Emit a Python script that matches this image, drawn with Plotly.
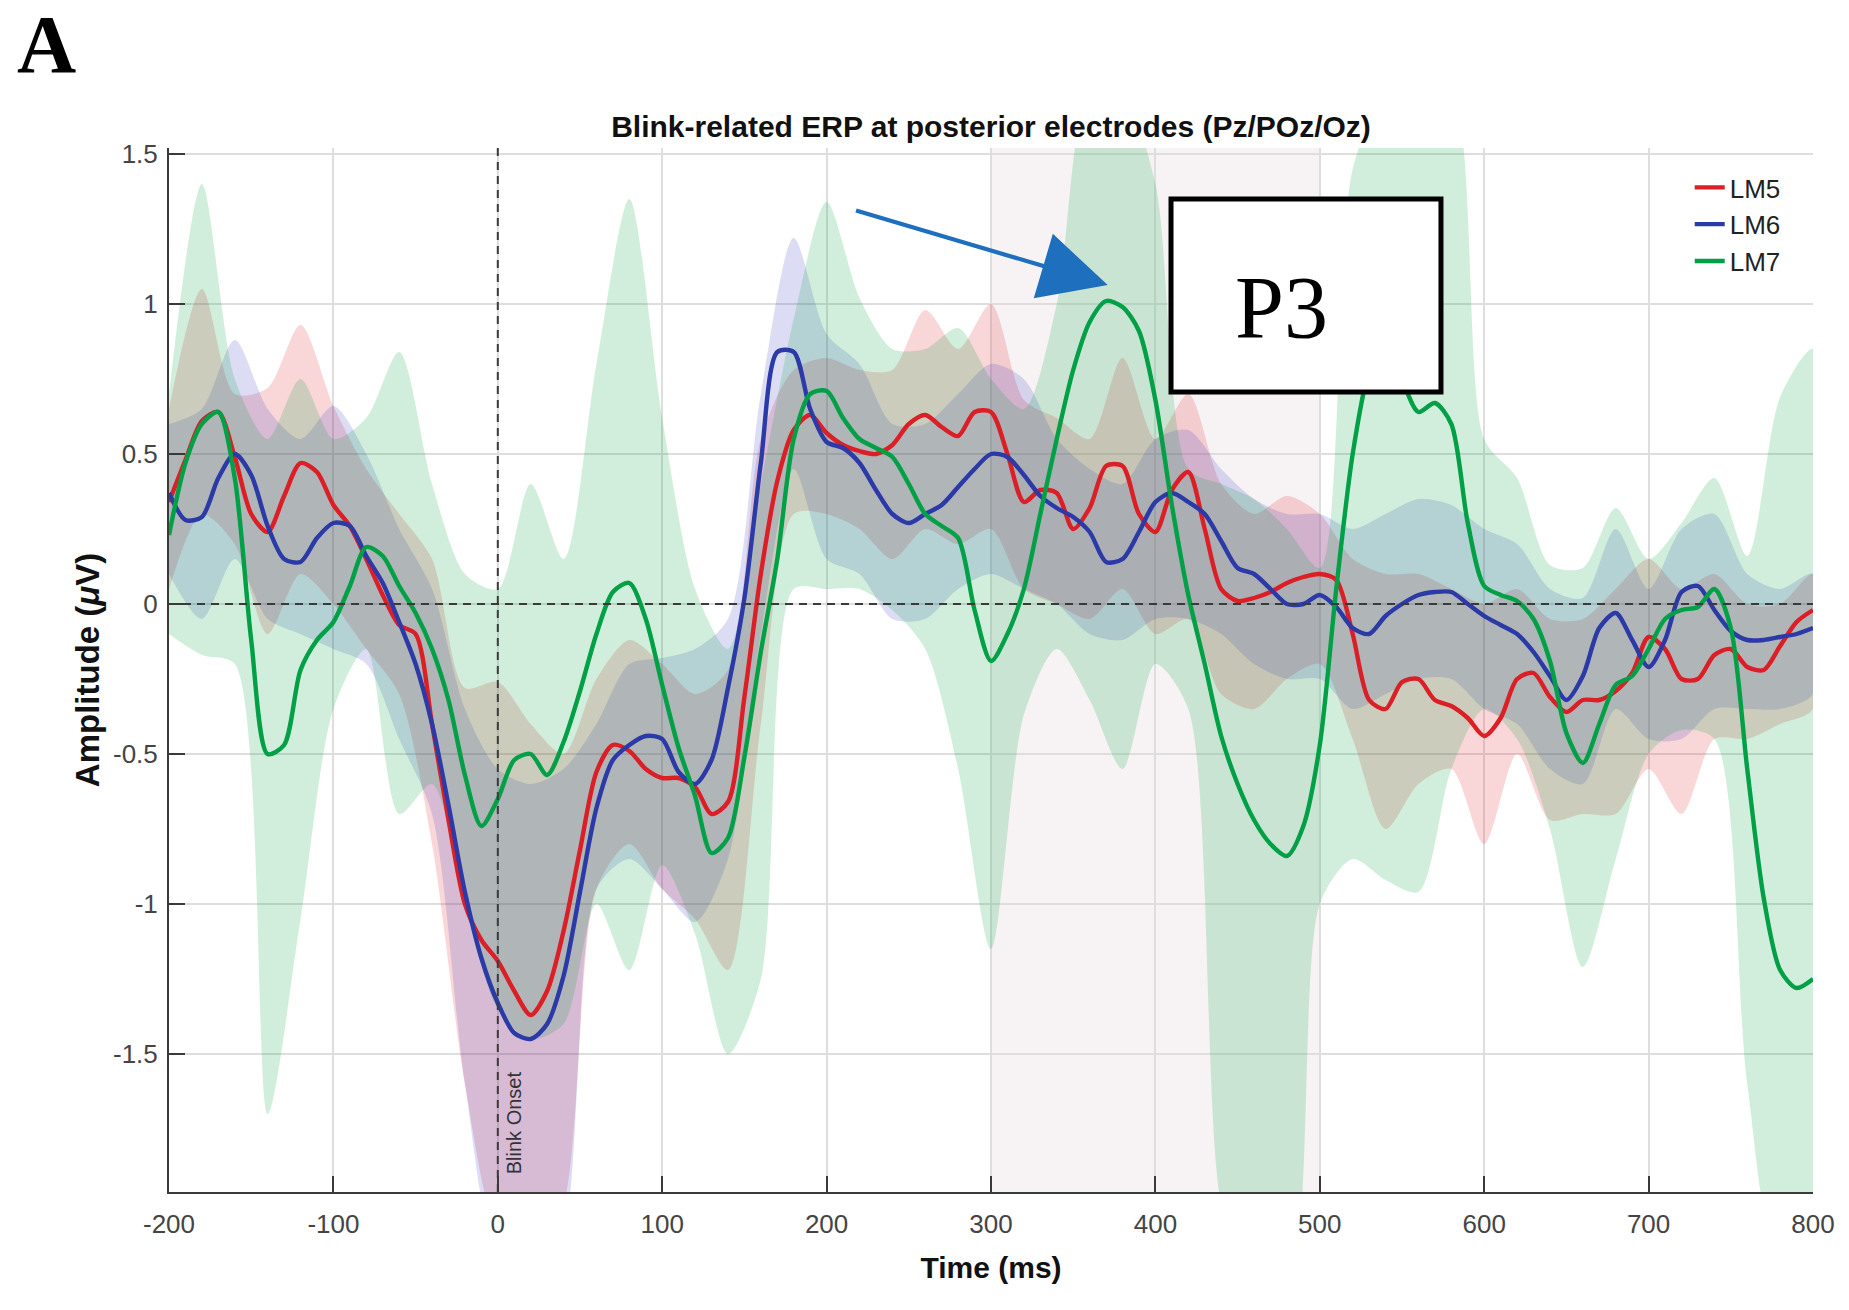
import plotly.graph_objects as go

# ---------------- data ----------------
time_ms = list(range(-200, 801, 10))
band_time_ms = list(range(-200, 801, 20))

lm5_mean = [0.34, 0.48, 0.61, 0.64, 0.49, 0.30, 0.24, 0.36, 0.47, 0.44,
            0.33, 0.26, 0.15, 0.03, -0.07, -0.10, -0.40, -0.72, -1.00, -1.12,
            -1.19, -1.29, -1.37, -1.29, -1.09, -0.82, -0.56, -0.47, -0.49, -0.55,
            -0.58, -0.58, -0.61, -0.70, -0.66, -0.31, 0.10, 0.41, 0.58, 0.63,
            0.57, 0.53, 0.51, 0.50, 0.53, 0.60, 0.63, 0.59, 0.56, 0.64,
            0.64, 0.50, 0.34, 0.38, 0.37, 0.25, 0.32, 0.46, 0.46, 0.30,
            0.24, 0.38, 0.44, 0.25, 0.05, 0.01, 0.02, 0.04, 0.07, 0.09,
            0.10, 0.08, -0.10, -0.32, -0.35, -0.26, -0.25, -0.32, -0.34, -0.38,
            -0.44, -0.38, -0.25, -0.23, -0.31, -0.36, -0.32, -0.32, -0.29, -0.23,
            -0.11, -0.15, -0.25, -0.25, -0.17, -0.15, -0.21, -0.22, -0.14, -0.06,
            -0.02]

lm6_mean = [0.37, 0.28, 0.29, 0.42, 0.50, 0.43, 0.26, 0.15, 0.14, 0.22,
            0.27, 0.26, 0.16, 0.07, -0.06, -0.20, -0.40, -0.67, -0.96, -1.18,
            -1.33, -1.43, -1.45, -1.40, -1.24, -0.96, -0.68, -0.52, -0.47, -0.44,
            -0.45, -0.56, -0.60, -0.52, -0.28, 0.02, 0.47, 0.84, 0.84, 0.65,
            0.54, 0.52, 0.47, 0.38, 0.30, 0.27, 0.30, 0.33, 0.39, 0.45,
            0.50, 0.49, 0.43, 0.36, 0.32, 0.29, 0.24, 0.14, 0.15, 0.24,
            0.34, 0.37, 0.34, 0.30, 0.21, 0.12, 0.10, 0.05, 0.00, 0.00,
            0.03, -0.01, -0.08, -0.10, -0.04, 0.00, 0.03, 0.04, 0.04, 0.00,
            -0.04, -0.07, -0.10, -0.16, -0.24, -0.32, -0.24, -0.08, -0.03, -0.12,
            -0.21, -0.12, 0.04, 0.06, -0.02, -0.09, -0.12, -0.12, -0.11, -0.10,
            -0.08]

lm7_mean = [0.23, 0.47, 0.60, 0.64, 0.42, -0.12, -0.50, -0.47, -0.22, -0.12,
            -0.06, 0.06, 0.19, 0.16, 0.06, -0.03, -0.15, -0.32, -0.57, -0.74,
            -0.65, -0.52, -0.50, -0.57, -0.46, -0.29, -0.10, 0.04, 0.07, -0.05,
            -0.27, -0.48, -0.64, -0.83, -0.78, -0.51, -0.16, 0.15, 0.55, 0.70,
            0.71, 0.62, 0.55, 0.52, 0.49, 0.40, 0.30, 0.26, 0.22, -0.02,
            -0.19, -0.10, 0.05, 0.30, 0.55, 0.78, 0.94, 1.01, 0.99, 0.91,
            0.68, 0.33, 0.03, -0.20, -0.44, -0.60, -0.72, -0.80, -0.84, -0.74,
            -0.47, 0.05, 0.50, 0.78, 0.90, 0.75, 0.64, 0.67, 0.60, 0.27,
            0.06, 0.03, 0.01, -0.05, -0.19, -0.43, -0.53, -0.40, -0.27, -0.24,
            -0.15, -0.05, -0.02, -0.01, 0.05, -0.08, -0.55, -0.98, -1.22, -1.28,
            -1.25]

lm5_upper = [0.65, 1.05, 0.70, 0.72, 0.93, 0.66, 0.45, 0.30, 0.15, -0.28,
             -0.26, -0.40, -0.50, -0.25, -0.12, -0.20, -0.30, -0.22, 0.55, 0.78,
             0.82, 0.78, 0.78, 0.98, 0.85, 1.00, 0.68, 0.62, 0.55, 0.82,
             0.55, 0.70, 0.40, 0.30, 0.36, 0.30, 0.15, 0.10, 0.10, 0.05,
             0.00, 0.05, -0.05, -0.05, 0.05, 0.15, 0.05, 0.10, 0.00, 0.00,
             0.10]
lm5_lower = [0.05, 0.30, 0.20, -0.10, 0.10, 0.00, -0.15, -0.30, -0.80, -1.60,
             -2.10, -2.20, -2.00, -0.95, -0.80, -0.95, -1.05, -1.22, -0.40, 0.30,
             0.30, 0.25, 0.15, 0.25, 0.20, 0.25, 0.05, 0.00, -0.05, 0.05,
             -0.10, -0.05, -0.30, -0.35, -0.25, -0.20, -0.45, -0.75, -0.60, -0.55,
             -0.80, -0.50, -0.72, -0.70, -0.70, -0.55, -0.70, -0.45, -0.45, -0.40,
             -0.35]

lm6_upper = [0.60, 0.65, 0.88, 0.65, 0.55, 0.66, 0.50, 0.25, 0.05, -0.35,
             -0.55, -0.60, -0.55, -0.40, -0.20, -0.18, -0.15, -0.05, 0.70, 1.22,
             0.90, 0.80, 0.60, 0.60, 0.70, 0.80, 0.75, 0.55, 0.45, 0.40,
             0.55, 0.58, 0.45, 0.35, 0.30, 0.30, 0.25, 0.30, 0.35, 0.33,
             0.25, 0.20, 0.05, 0.02, 0.25, 0.05, 0.25, 0.30, 0.10, 0.05,
             0.10]
lm6_lower = [0.10, -0.05, 0.15, -0.05, -0.10, -0.15, -0.20, -0.45, -0.70, -1.60,
             -2.20, -2.30, -2.10, -0.95, -0.85, -0.95, -1.06, -0.85, -0.10, 0.45,
             0.15, 0.10, -0.05, -0.05, 0.05, 0.10, 0.05, 0.00, -0.10, -0.12,
             -0.05, -0.05, -0.10, -0.20, -0.25, -0.25, -0.35, -0.30, -0.25, -0.25,
             -0.35, -0.40, -0.55, -0.60, -0.35, -0.45, -0.45, -0.35, -0.35, -0.35,
             -0.30]

lm7_upper = [0.70, 1.40, 0.75, 0.55, 0.75, 0.55, 0.62, 0.84, 0.40, 0.10,
             0.05, 0.40, 0.15, 0.80, 1.35, 0.62, 0.05, -0.15, 0.40, 0.95,
             1.34, 1.02, 0.85, 0.85, 0.92, 0.75, 0.65, 1.00, 1.70, 1.70,
             1.40, 0.45, 0.40, 0.35, 0.25, 0.12, 1.45, 1.70, 1.70, 1.70,
             0.55, 0.42, 0.13, 0.12, 0.32, 0.15, 0.27, 0.42, 0.16, 0.69,
             0.85]
lm7_lower = [-0.10, -0.17, -0.20, -1.70, -1.05, -0.35, -0.15, -0.70, -0.60, -1.00,
             -1.35, -1.45, -1.40, -1.00, -1.22, -0.87, -1.10, -1.50, -1.25, 0.05,
             0.05, 0.05, -0.02, -0.15, -0.55, -1.15, -0.37, -0.15, -0.32, -0.55,
             -0.20, -0.35, -2.00, -2.30, -2.30, -1.00, -0.85, -0.92, -0.96, -0.55,
             -0.35, -0.45, -0.75, -1.21, -0.85, -0.50, -0.42, -0.45, -1.60, -2.20,
             -2.20]

series_names = ["LM5", "LM6", "LM7"]
y_tick_vals = [-1.5, -1, -0.5, 0, 0.5, 1, 1.5]
y_tick_text = ["-1.5", "-1", "-0.5", "0", "0.5", "1", "1.5"]
x_tick_vals = [-200, -100, 0, 100, 200, 300, 400, 500, 600, 700, 800]
x_tick_text = ["-200", "-100", "0", "100", "200", "300", "400", "500", "600", "700", "800"]

# ---------------- styling ----------------
line_colors = ["#dc1f26", "#2b3aa6", "#00a046"]
band_colors = ["rgba(220,30,40,0.18)", "rgba(50,50,190,0.17)", "rgba(0,160,60,0.18)"]
SANS = "Liberation Sans, Arial, sans-serif"
SERIF = "Liberation Serif, Times New Roman, serif"

fig = go.Figure()

# shaded analysis window
fig.add_vrect(x0=300, x1=500, fillcolor="#f7f3f5", line_width=0, layer="below")

means = [lm5_mean, lm6_mean, lm7_mean]
uppers = [lm5_upper, lm6_upper, lm7_upper]
lowers = [lm5_lower, lm6_lower, lm7_lower]

for up, lo, fc in zip(uppers, lowers, band_colors):
    fig.add_trace(go.Scatter(
        x=band_time_ms + band_time_ms[::-1],
        y=up + lo[::-1],
        fill="toself", fillcolor=fc, mode="lines",
        line=dict(width=0, shape="spline", smoothing=0.8),
        hoverinfo="skip", showlegend=False))

for name, m, c in zip(series_names, means, line_colors):
    fig.add_trace(go.Scatter(
        x=time_ms, y=m, name=name, mode="lines",
        line=dict(color=c, width=4.4, shape="spline", smoothing=0.8)))

# zero reference lines
fig.add_shape(type="line", xref="x", yref="y", x0=-200, x1=800, y0=0, y1=0,
              line=dict(color="#3a3a3a", width=2, dash="8px,6px"))
fig.add_shape(type="line", xref="x", yref="paper", x0=0, x1=0, y0=0, y1=1,
              line=dict(color="#3a3a3a", width=2, dash="8px,6px"))

# P3 box
fig.add_shape(type="rect", xref="x", yref="y", x0=409.5, x1=573.7, y0=0.707, y1=1.35,
              fillcolor="white", line=dict(color="black", width=5), layer="above")

fig.add_annotation(x=477, y=0.99, xref="x", yref="y", text="P3", showarrow=False,
                   xanchor="center", yanchor="middle",
                   font=dict(family=SERIF, size=88, color="black"))

# arrow
fig.add_annotation(x=371, y=1.063, ax=217, ay=1.313, xref="x", yref="y",
                   axref="x", ayref="y", text="", showarrow=True,
                   arrowhead=2, arrowsize=3.2, arrowwidth=4.2, arrowcolor="#1f6fbf",
                   standoff=0, startstandoff=0)

fig.add_annotation(x=10, y=-1.73, xref="x", yref="y", text="Blink Onset",
                   showarrow=False, textangle=-90,
                   font=dict(family=SANS, size=20, color="#333333"))

# panel letter (paper coords relative to the plot area)
fig.add_annotation(x=(47 - 169) / 1644, y=(1192 - 45) / 1044, xref="paper", yref="paper",
                   text="<b>A</b>", showarrow=False,
                   xanchor="center", yanchor="middle",
                   font=dict(family=SERIF, size=82, color="black"))

axis_common = dict(
    showgrid=True, gridcolor="#dedede", gridwidth=2, zeroline=False,
    showline=True, linecolor="#3a3a3a", linewidth=2, mirror=False,
    ticks="inside", ticklen=16, tickwidth=2, tickcolor="#3a3a3a",
    tickfont=dict(family=SANS, size=26, color="#444444"),
)

fig.update_layout(
    width=1849, height=1310,
    paper_bgcolor="white", plot_bgcolor="white",
    margin=dict(l=169, r=36, t=148, b=118, autoexpand=False),
    title=dict(text="Blink-related ERP at posterior electrodes (Pz/POz/Oz)",
               x=0.5, xref="paper", xanchor="center",
               y=1 - 126 / 1310, yref="container", yanchor="middle",
               font=dict(family=SANS, size=30, color="#111111", weight="bold")),
    xaxis=dict(range=[-200, 800], tickvals=x_tick_vals, ticktext=x_tick_text,
               ticklabelstandoff=8,
               title=dict(text="Time (ms)", standoff=19,
                          font=dict(family=SANS, size=30, color="#111111", weight="bold")),
               **axis_common),
    yaxis=dict(range=[-1.96, 1.52], tickvals=y_tick_vals, ticktext=y_tick_text,
               ticklabelstandoff=4,
               title=dict(text="Amplitude (<i>μ</i>V)", standoff=3,
                          font=dict(family=SANS, size=33, color="#111111", weight="bold")),
               **axis_common),
    legend=dict(x=0.925, y=0.9847, xanchor="left", yanchor="top",
                bgcolor="rgba(0,0,0,0)", borderwidth=0,
                font=dict(family=SANS, size=26, color="#222222"),
                tracegroupgap=0, itemwidth=30),
    showlegend=True,
)

fig.write_html("out.html")
